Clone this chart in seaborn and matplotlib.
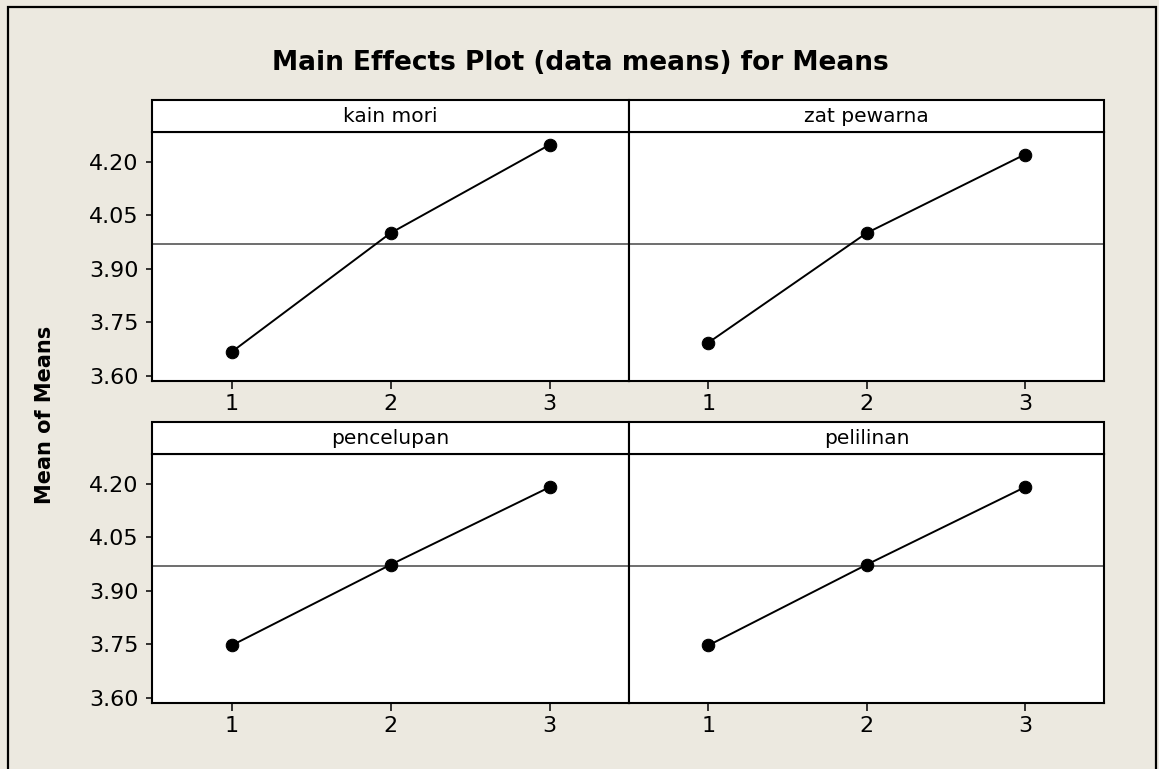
import numpy as np
import pandas as pd
import matplotlib
matplotlib.use("Agg")
import matplotlib.pyplot as plt
from matplotlib.patches import Rectangle
import seaborn as sns

# Level means for each factor
factors = ["kain mori", "zat pewarna", "pencelupan", "pelilinan"]
levels = [1, 2, 3]
kain_mori = [3.667, 4.000, 4.247]
zat_pewarna = [3.693, 4.000, 4.220]
pencelupan = [3.747, 3.973, 4.190]
pelilinan = [3.747, 3.973, 4.190]

y_ticks = [3.60, 3.75, 3.90, 4.05, 4.20]
x_ticks = [1, 2, 3]

title = "Main Effects Plot (data means) for Means"
y_label = "Mean of Means"

df = pd.DataFrame({
    "factor": np.repeat(factors, len(levels)),
    "level": levels * len(factors),
    "mean": np.concatenate([kain_mori, zat_pewarna, pencelupan, pelilinan]),
})
grand_mean = df["mean"].mean()

sns.set_style("ticks")
plt.rcParams["font.family"] = ["DejaVu Sans"]

BG = "#ECE9E0"
W, H, DPI = 1159, 769, 100

g = sns.FacetGrid(df, col="factor", col_wrap=2, col_order=factors,
                  sharex=True, sharey=True, height=3, aspect=1.5, despine=False)
g.map_dataframe(sns.lineplot, x="level", y="mean", color="black",
                linewidth=1.4, marker="o", markersize=9,
                markeredgecolor="black", markerfacecolor="black")

fig = g.figure
fig.set_size_inches(W / DPI, H / DPI)
fig.set_dpi(DPI)
fig.patch.set_facecolor(BG)


def px_box(x0, y0, x1, y1):
    return [x0 / W, 1 - y1 / H, (x1 - x0) / W, (y1 - y0) / H]


boxes = [(152, 132, 629, 381), (629, 132, 1104, 381),
         (152, 454, 629, 703), (629, 454, 1104, 703)]
strip_px = 32

for i, (ax, name) in enumerate(zip(g.axes.flat, factors)):
    box = boxes[i]
    ax.set_position(px_box(*box))
    ax.set_title("")
    ax.set_xlabel("")
    ax.set_ylabel("")
    ax.set_facecolor("white")
    ax.axhline(grand_mean, color="#555555", lw=1.2, zorder=1)
    ax.set_xlim(0.5, 3.5)
    ax.set_ylim(3.586, 4.283)
    ax.set_xticks(x_ticks)
    ax.set_xticklabels([str(v) for v in x_ticks])
    ax.set_yticks(y_ticks)
    ax.set_yticklabels([f"{v:.2f}" for v in y_ticks])
    for sp in ax.spines.values():
        sp.set_color("black")
        sp.set_linewidth(1.5)
        sp.set_visible(True)
    ax.tick_params(axis="x", direction="out", length=5.5, width=1.1,
                   labelsize=16, pad=4, colors="black",
                   bottom=True, labelbottom=True)
    for t in ax.get_xticklabels():
        t.set_visible(True)
    if i % 2 == 0:
        ax.tick_params(axis="y", direction="out", length=4.5, width=1.1,
                       labelsize=16, pad=5, colors="black",
                       left=True, labelleft=True)
        for t in ax.get_yticklabels():
            t.set_visible(True)
    else:
        ax.tick_params(axis="y", left=False, labelleft=False)

    # Panel header strip
    ax_h = box[3] - box[1]
    sh = strip_px / ax_h
    ax.add_patch(Rectangle((0, 1), 1, sh, transform=ax.transAxes,
                           facecolor="white", edgecolor="black", lw=1.5,
                           clip_on=False, zorder=5))
    ax.text(0.5, 1 + sh / 2, name, transform=ax.transAxes, ha="center",
            va="center", fontsize=14.5, color="black", zorder=6)

fig.text(580 / W, 1 - 63 / H, title, ha="center", va="center",
         fontsize=19, fontweight="bold", color="black")
fig.text(45 / W, 1 - 415 / H, y_label, rotation=90, ha="center",
         va="center", fontsize=15, fontweight="bold", color="black")

# Outer frame of the graph window
fig.add_artist(Rectangle((8 / W, -0.1), (1156 - 8) / W, (1 - 7 / H) + 0.1,
                         transform=fig.transFigure, fill=False,
                         edgecolor="black", lw=1.6))

fig.savefig("out.png", dpi=DPI, facecolor=BG)
